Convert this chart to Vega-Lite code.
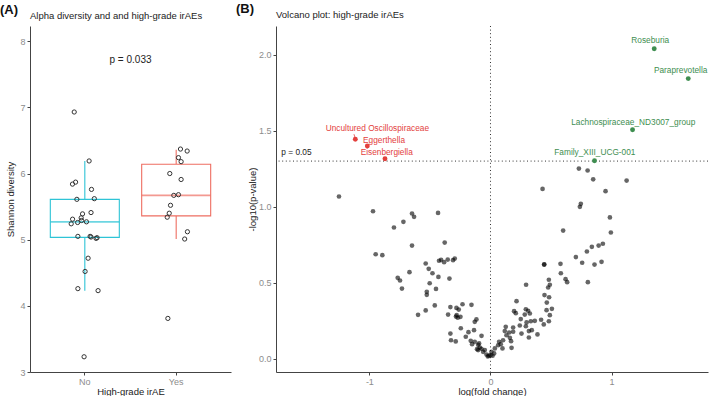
{
  "$schema": "https://vega.github.io/schema/vega-lite/v6.json",
  "padding": {"left": 0, "top": 3, "right": 0, "bottom": 0},
  "config": {
    "font": "Liberation Sans",
    "view": {"stroke": null},
    "axis": {
      "domainColor": "#444", "tickColor": "#444", "tickSize": 3,
      "labelColor": "#8c8c8c", "labelFontSize": 9, "labelPadding": 2,
      "titleFontSize": 9.5, "titleColor": "#222", "titleFontWeight": "normal",
      "grid": false
    },
    "title": {"fontSize": 9.5, "fontWeight": "normal", "color": "#222", "anchor": "start", "frame": "group"}
  },
  "datasets": {
    "box": [
      {"group": "No", "lower": 4.23, "q1": 5.035, "median": 5.27, "q3": 5.61, "upper": 6.19},
      {"group": "Yes", "lower": 5.01, "q1": 5.36, "median": 5.67, "q3": 6.14, "upper": 6.36}
    ],
    "alpha": [
      {"group": "No", "jit": -0.116, "shannon": 6.93},
      {"group": "No", "jit": 0.047, "shannon": 6.19},
      {"group": "No", "jit": -0.135, "shannon": 5.84},
      {"group": "No", "jit": -0.101, "shannon": 5.87},
      {"group": "No", "jit": 0.073, "shannon": 5.76},
      {"group": "No", "jit": -0.087, "shannon": 5.61},
      {"group": "No", "jit": 0.104, "shannon": 5.62},
      {"group": "No", "jit": 0.068, "shannon": 5.41},
      {"group": "No", "jit": -0.025, "shannon": 5.39},
      {"group": "No", "jit": -0.04, "shannon": 5.33},
      {"group": "No", "jit": -0.134, "shannon": 5.31},
      {"group": "No", "jit": -0.036, "shannon": 5.29},
      {"group": "No", "jit": -0.079, "shannon": 5.26},
      {"group": "No", "jit": 0.018, "shannon": 5.27},
      {"group": "No", "jit": -0.149, "shannon": 5.24},
      {"group": "No", "jit": -0.076, "shannon": 5.05},
      {"group": "No", "jit": 0.058, "shannon": 5.05},
      {"group": "No", "jit": 0.068, "shannon": 5.04},
      {"group": "No", "jit": 0.123, "shannon": 5.02},
      {"group": "No", "jit": 0.134, "shannon": 5.03},
      {"group": "No", "jit": 0.036, "shannon": 4.72},
      {"group": "No", "jit": 0.003, "shannon": 4.52},
      {"group": "No", "jit": -0.076, "shannon": 4.26},
      {"group": "No", "jit": 0.145, "shannon": 4.23},
      {"group": "No", "jit": -0.008, "shannon": 3.23},
      {"group": "Yes", "jit": 0.047, "shannon": 6.37},
      {"group": "Yes", "jit": 0.12, "shannon": 6.34},
      {"group": "Yes", "jit": 0.025, "shannon": 6.24},
      {"group": "Yes", "jit": 0.054, "shannon": 6.18},
      {"group": "Yes", "jit": -0.07, "shannon": 6.0},
      {"group": "Yes", "jit": 0.054, "shannon": 5.91},
      {"group": "Yes", "jit": -0.026, "shannon": 5.67},
      {"group": "Yes", "jit": 0.025, "shannon": 5.68},
      {"group": "Yes", "jit": -0.062, "shannon": 5.52},
      {"group": "Yes", "jit": -0.076, "shannon": 5.4},
      {"group": "Yes", "jit": -0.098, "shannon": 5.34},
      {"group": "Yes", "jit": 0.123, "shannon": 5.12},
      {"group": "Yes", "jit": 0.093, "shannon": 5.01},
      {"group": "Yes", "jit": -0.091, "shannon": 3.81}
    ],
    "volcano": [
      {"lfc": -1.251, "nlp": 1.068}, {"lfc": -0.97, "nlp": 0.971}, {"lfc": -0.648, "nlp": 0.956},
      {"lfc": -0.631, "nlp": 0.934}, {"lfc": -0.433, "nlp": 0.96}, {"lfc": -0.719, "nlp": 0.901},
      {"lfc": -0.797, "nlp": 0.864}, {"lfc": -0.648, "nlp": 0.745}, {"lfc": -0.378, "nlp": 0.765},
      {"lfc": -0.948, "nlp": 0.688}, {"lfc": -0.893, "nlp": 0.682}, {"lfc": -0.535, "nlp": 0.627},
      {"lfc": -0.51, "nlp": 0.592}, {"lfc": -0.425, "nlp": 0.645}, {"lfc": -0.408, "nlp": 0.651},
      {"lfc": -0.383, "nlp": 0.636}, {"lfc": -0.353, "nlp": 0.653}, {"lfc": -0.309, "nlp": 0.649},
      {"lfc": -0.295, "nlp": 0.66}, {"lfc": -0.479, "nlp": 0.563}, {"lfc": -0.669, "nlp": 0.57},
      {"lfc": -0.43, "nlp": 0.539}, {"lfc": -0.339, "nlp": 0.528}, {"lfc": -0.766, "nlp": 0.533},
      {"lfc": -0.747, "nlp": 0.515}, {"lfc": -0.731, "nlp": 0.462}, {"lfc": -0.502, "nlp": 0.497},
      {"lfc": -0.45, "nlp": 0.46}, {"lfc": -0.526, "nlp": 0.441}, {"lfc": -0.526, "nlp": 0.421},
      {"lfc": -0.46, "nlp": 0.351}, {"lfc": -0.535, "nlp": 0.318}, {"lfc": -0.598, "nlp": 0.289},
      {"lfc": -0.35, "nlp": 0.291}, {"lfc": -0.331, "nlp": 0.34}, {"lfc": -0.281, "nlp": 0.335},
      {"lfc": -0.262, "nlp": 0.324}, {"lfc": -0.231, "nlp": 0.359}, {"lfc": -0.157, "nlp": 0.355},
      {"lfc": -0.279, "nlp": 0.287}, {"lfc": -0.27, "nlp": 0.27}, {"lfc": -0.248, "nlp": 0.276},
      {"lfc": -0.285, "nlp": 0.278}, {"lfc": -0.116, "nlp": 0.259}, {"lfc": -0.13, "nlp": 0.243},
      {"lfc": -0.245, "nlp": 0.201}, {"lfc": -0.331, "nlp": 0.166}, {"lfc": -0.182, "nlp": 0.175},
      {"lfc": -0.136, "nlp": 0.188}, {"lfc": -0.204, "nlp": 0.145}, {"lfc": -0.326, "nlp": 0.122},
      {"lfc": -0.287, "nlp": 0.114}, {"lfc": -0.163, "nlp": 0.118}, {"lfc": -0.152, "nlp": 0.096},
      {"lfc": -0.102, "nlp": 0.092}, {"lfc": -0.111, "nlp": 0.063}, {"lfc": -0.088, "nlp": 0.074},
      {"lfc": -0.074, "nlp": 0.151}, {"lfc": -0.13, "nlp": 0.112}, {"lfc": -0.094, "nlp": 0.101},
      {"lfc": -0.075, "nlp": 0.066}, {"lfc": -0.061, "nlp": 0.046}, {"lfc": -0.047, "nlp": 0.057},
      {"lfc": -0.102, "nlp": 0.057}, {"lfc": -0.033, "nlp": 0.028}, {"lfc": -0.014, "nlp": 0.02},
      {"lfc": 0.0, "nlp": 0.024}, {"lfc": 0.008, "nlp": 0.046}, {"lfc": 0.017, "nlp": 0.02},
      {"lfc": -0.022, "nlp": 0.015}, {"lfc": 0.03, "nlp": 0.035},
      {"lfc": 0.036, "nlp": 0.068}, {"lfc": 0.063, "nlp": 0.089}, {"lfc": 0.071, "nlp": 0.112},
      {"lfc": 0.085, "nlp": 0.096}, {"lfc": 0.099, "nlp": 0.068}, {"lfc": 0.104, "nlp": 0.122},
      {"lfc": 0.118, "nlp": 0.182}, {"lfc": 0.126, "nlp": 0.21}, {"lfc": 0.132, "nlp": 0.155},
      {"lfc": 0.154, "nlp": 0.173}, {"lfc": 0.16, "nlp": 0.138}, {"lfc": 0.17, "nlp": 0.116},
      {"lfc": 0.174, "nlp": 0.072}, {"lfc": 0.187, "nlp": 0.206}, {"lfc": 0.187, "nlp": 0.178},
      {"lfc": 0.195, "nlp": 0.313}, {"lfc": 0.209, "nlp": 0.3}, {"lfc": 0.215, "nlp": 0.379},
      {"lfc": 0.242, "nlp": 0.219}, {"lfc": 0.25, "nlp": 0.261}, {"lfc": 0.256, "nlp": 0.166},
      {"lfc": 0.283, "nlp": 0.291}, {"lfc": 0.292, "nlp": 0.326}, {"lfc": 0.311, "nlp": 0.316},
      {"lfc": 0.325, "nlp": 0.298}, {"lfc": 0.298, "nlp": 0.239}, {"lfc": 0.333, "nlp": 0.247},
      {"lfc": 0.366, "nlp": 0.25}, {"lfc": 0.292, "nlp": 0.214}, {"lfc": 0.317, "nlp": 0.182},
      {"lfc": 0.341, "nlp": 0.188}, {"lfc": 0.317, "nlp": 0.14}, {"lfc": 0.388, "nlp": 0.16},
      {"lfc": 0.294, "nlp": 0.487}, {"lfc": 0.418, "nlp": 0.257}, {"lfc": 0.44, "nlp": 0.226},
      {"lfc": 0.482, "nlp": 0.247}, {"lfc": 0.49, "nlp": 0.287}, {"lfc": 0.463, "nlp": 0.32},
      {"lfc": 0.507, "nlp": 0.329}, {"lfc": 0.465, "nlp": 0.37}, {"lfc": 0.446, "nlp": 0.419},
      {"lfc": 0.484, "nlp": 0.405}, {"lfc": 0.476, "nlp": 0.469}, {"lfc": 0.49, "nlp": 0.487},
      {"lfc": 0.482, "nlp": 0.52}, {"lfc": 0.443, "nlp": 0.62}, {"lfc": 0.444, "nlp": 0.621},
      {"lfc": 0.578, "nlp": 0.625}, {"lfc": 0.581, "nlp": 0.563}, {"lfc": 0.62, "nlp": 0.524},
      {"lfc": 0.633, "nlp": 0.504}, {"lfc": 0.804, "nlp": 0.504}, {"lfc": 0.705, "nlp": 0.669},
      {"lfc": 0.757, "nlp": 0.632}, {"lfc": 0.796, "nlp": 0.706}, {"lfc": 0.837, "nlp": 0.737},
      {"lfc": 0.893, "nlp": 0.745}, {"lfc": 0.928, "nlp": 0.757}, {"lfc": 0.859, "nlp": 0.62},
      {"lfc": 0.917, "nlp": 0.638}, {"lfc": 0.6, "nlp": 0.844}, {"lfc": 0.994, "nlp": 0.831},
      {"lfc": 0.986, "nlp": 0.93}, {"lfc": 0.746, "nlp": 1.02}, {"lfc": 0.738, "nlp": 1.0},
      {"lfc": 0.95, "nlp": 1.103}, {"lfc": 0.43, "nlp": 1.118}, {"lfc": 0.848, "nlp": 1.181},
      {"lfc": 1.124, "nlp": 1.173}, {"lfc": 0.73, "nlp": 1.252}, {"lfc": 0.802, "nlp": 1.239}
    ],
    "hits": [
      {"taxon": "Uncultured Oscillospiraceae", "dir": "down", "lfc": -1.116, "nlp": 1.445, "lx": -0.934, "ly": 1.509},
      {"taxon": "Eggerthella", "dir": "down", "lfc": -1.017, "nlp": 1.4, "lx": -0.879, "ly": 1.436},
      {"taxon": "Eisenbergiella", "dir": "down", "lfc": -0.871, "nlp": 1.316, "lx": -0.857, "ly": 1.355},
      {"taxon": "Roseburia", "dir": "up", "lfc": 1.352, "nlp": 2.04, "lx": 1.319, "ly": 2.089},
      {"taxon": "Paraprevotella", "dir": "up", "lfc": 1.633, "nlp": 1.844, "lx": 1.57, "ly": 1.892},
      {"taxon": "Lachnospiraceae_ND3007_group", "dir": "up", "lfc": 1.173, "nlp": 1.507, "lx": 1.179, "ly": 1.553},
      {"taxon": "Family_XIII_UCG-001", "dir": "up", "lfc": 0.859, "nlp": 1.303, "lx": 0.862, "ly": 1.351}
    ]
  },
  "spacing": 5,
  "resolve": {"scale": {"color": "independent", "stroke": "independent"}},
  "hconcat": [
    {
      "title": {"text": "(A)", "fontSize": 13, "fontWeight": "bold", "color": "#111", "dx": -30, "offset": -6},
      "vconcat": [
        {
          "width": 201,
          "height": 346,
          "title": {"text": "Alpha diversity and and high-grade irAEs", "offset": 6},
          "encoding": {
            "x": {
              "field": "group", "type": "nominal",
              "scale": {"domain": ["No", "Yes"], "paddingInner": 0, "paddingOuter": 0.1},
              "axis": {"title": "High-grade irAE", "labelAngle": 0, "titlePadding": 0}
            }
          },
          "layer": [
            {
              "data": {"name": "box"},
              "mark": {"type": "rule", "strokeWidth": 1.1},
              "encoding": {
                "y": {"field": "upper", "type": "quantitative", "title": "Shannon diversity",
                      "scale": {"domain": [3, 8.23], "nice": false, "zero": false},
                      "axis": {"values": [3, 4, 5, 6, 7, 8], "format": "d", "titlePadding": 4}},
                "y2": {"field": "q3"},
                "color": {"field": "group", "type": "nominal", "legend": null,
                          "scale": {"domain": ["No", "Yes"], "range": ["#2EC4D6", "#EE6E62"]}}
              }
            },
            {
              "data": {"name": "box"},
              "mark": {"type": "rule", "strokeWidth": 1.1},
              "encoding": {
                "y": {"field": "q1", "type": "quantitative", "title": "Shannon diversity"},
                "y2": {"field": "lower"},
                "color": {"field": "group", "type": "nominal", "legend": null}
              }
            },
            {
              "data": {"name": "box"},
              "mark": {"type": "bar", "fill": "white", "strokeWidth": 1.1, "size": 69},
              "encoding": {
                "y": {"field": "q1", "type": "quantitative", "title": "Shannon diversity"},
                "y2": {"field": "q3"},
                "stroke": {"field": "group", "type": "nominal", "legend": null,
                           "scale": {"domain": ["No", "Yes"], "range": ["#2EC4D6", "#EE6E62"]}}
              }
            },
            {
              "data": {"name": "box"},
              "mark": {"type": "tick", "orient": "horizontal", "size": 69, "thickness": 1.8},
              "encoding": {
                "y": {"field": "median", "type": "quantitative", "title": "Shannon diversity"},
                "color": {"field": "group", "type": "nominal", "legend": null}
              }
            },
            {
              "data": {"name": "alpha"},
              "mark": {"type": "point", "filled": false, "size": 18, "strokeWidth": 1, "color": "#333", "opacity": 1},
              "encoding": {
                "xOffset": {"field": "jit", "type": "quantitative", "scale": {"domain": [-0.5, 0.5]}},
                "y": {"field": "shannon", "type": "quantitative", "title": "Shannon diversity"}
              }
            },
            {
              "data": {"values": [{"label": "p = 0.033", "group": "No", "shift": 0.5, "y": 7.72}]},
              "mark": {"type": "text", "fontSize": 10, "color": "#222", "baseline": "middle"},
              "encoding": {
                "text": {"field": "label"},
                "xOffset": {"field": "shift", "type": "quantitative"},
                "y": {"field": "y", "type": "quantitative", "title": "Shannon diversity"}
              }
            }
          ]
        }
      ]
    },
    {
      "title": {"text": "(B)", "fontSize": 13, "fontWeight": "bold", "color": "#111", "dx": -40, "offset": -6},
      "vconcat": [
        {
          "width": 432,
          "height": 346,
          "title": {"text": "Volcano plot: high-grade irAEs", "offset": 6},
          "layer": [
            {
              "data": {"values": [{"lfc": 0}]},
              "mark": {"type": "rule", "color": "#333", "strokeWidth": 1, "strokeDash": [1, 2.6]},
              "encoding": {
                "x": {"field": "lfc", "type": "quantitative",
                      "scale": {"domain": [-1.771, 1.796], "nice": false, "zero": false},
                      "axis": {"values": [-1, 0, 1], "labelExpr": "'' + datum.value", "title": "log(fold change)", "titlePadding": 0}}
              }
            },
            {
              "data": {"values": [{"nlp": 1.30103}]},
              "mark": {"type": "rule", "color": "#333", "strokeWidth": 1, "strokeDash": [1, 2.6]},
              "encoding": {
                "y": {"field": "nlp", "type": "quantitative",
                      "scale": {"domain": [-0.087, 2.19], "nice": false, "zero": false},
                      "axis": {"values": [0, 0.5, 1, 1.5, 2], "format": ".1f", "title": "-log10(p-value)", "titlePadding": 1}}
              }
            },
            {
              "data": {"name": "volcano"},
              "mark": {"type": "circle", "color": "#000", "opacity": 0.6, "size": 22},
              "encoding": {
                "x": {"field": "lfc", "type": "quantitative", "title": "log(fold change)"},
                "y": {"field": "nlp", "type": "quantitative", "title": "-log10(p-value)"}
              }
            },
            {
              "data": {"values": [{"x": -1.127, "y": 1.478, "x2": -1.116, "y2": 1.448}]},
              "mark": {"type": "rule", "color": "#E3403D", "strokeWidth": 0.8},
              "encoding": {
                "x": {"field": "x", "type": "quantitative", "title": "log(fold change)"},
                "x2": {"field": "x2"},
                "y": {"field": "y", "type": "quantitative", "title": "-log10(p-value)"},
                "y2": {"field": "y2"}
              }
            },
            {
              "data": {"name": "hits"},
              "mark": {"type": "circle", "opacity": 1, "size": 24},
              "encoding": {
                "x": {"field": "lfc", "type": "quantitative", "title": "log(fold change)"},
                "y": {"field": "nlp", "type": "quantitative", "title": "-log10(p-value)"},
                "color": {"field": "dir", "type": "nominal", "legend": null,
                          "scale": {"domain": ["down", "up"], "range": ["#E3403D", "#3E8E50"]}}
              }
            },
            {
              "data": {"name": "hits"},
              "mark": {"type": "text", "fontSize": 8.3, "baseline": "middle"},
              "encoding": {
                "x": {"field": "lx", "type": "quantitative", "title": "log(fold change)"},
                "y": {"field": "ly", "type": "quantitative", "title": "-log10(p-value)"},
                "text": {"field": "taxon"},
                "color": {"field": "dir", "type": "nominal", "legend": null}
              }
            },
            {
              "data": {"values": [{"label": "p = 0.05", "x": -1.727, "y": 1.351}]},
              "mark": {"type": "text", "fontSize": 8.3, "align": "left", "baseline": "middle", "color": "#222"},
              "encoding": {
                "x": {"field": "x", "type": "quantitative", "title": "log(fold change)"},
                "y": {"field": "y", "type": "quantitative", "title": "-log10(p-value)"},
                "text": {"field": "label"}
              }
            }
          ]
        }
      ]
    }
  ]
}
